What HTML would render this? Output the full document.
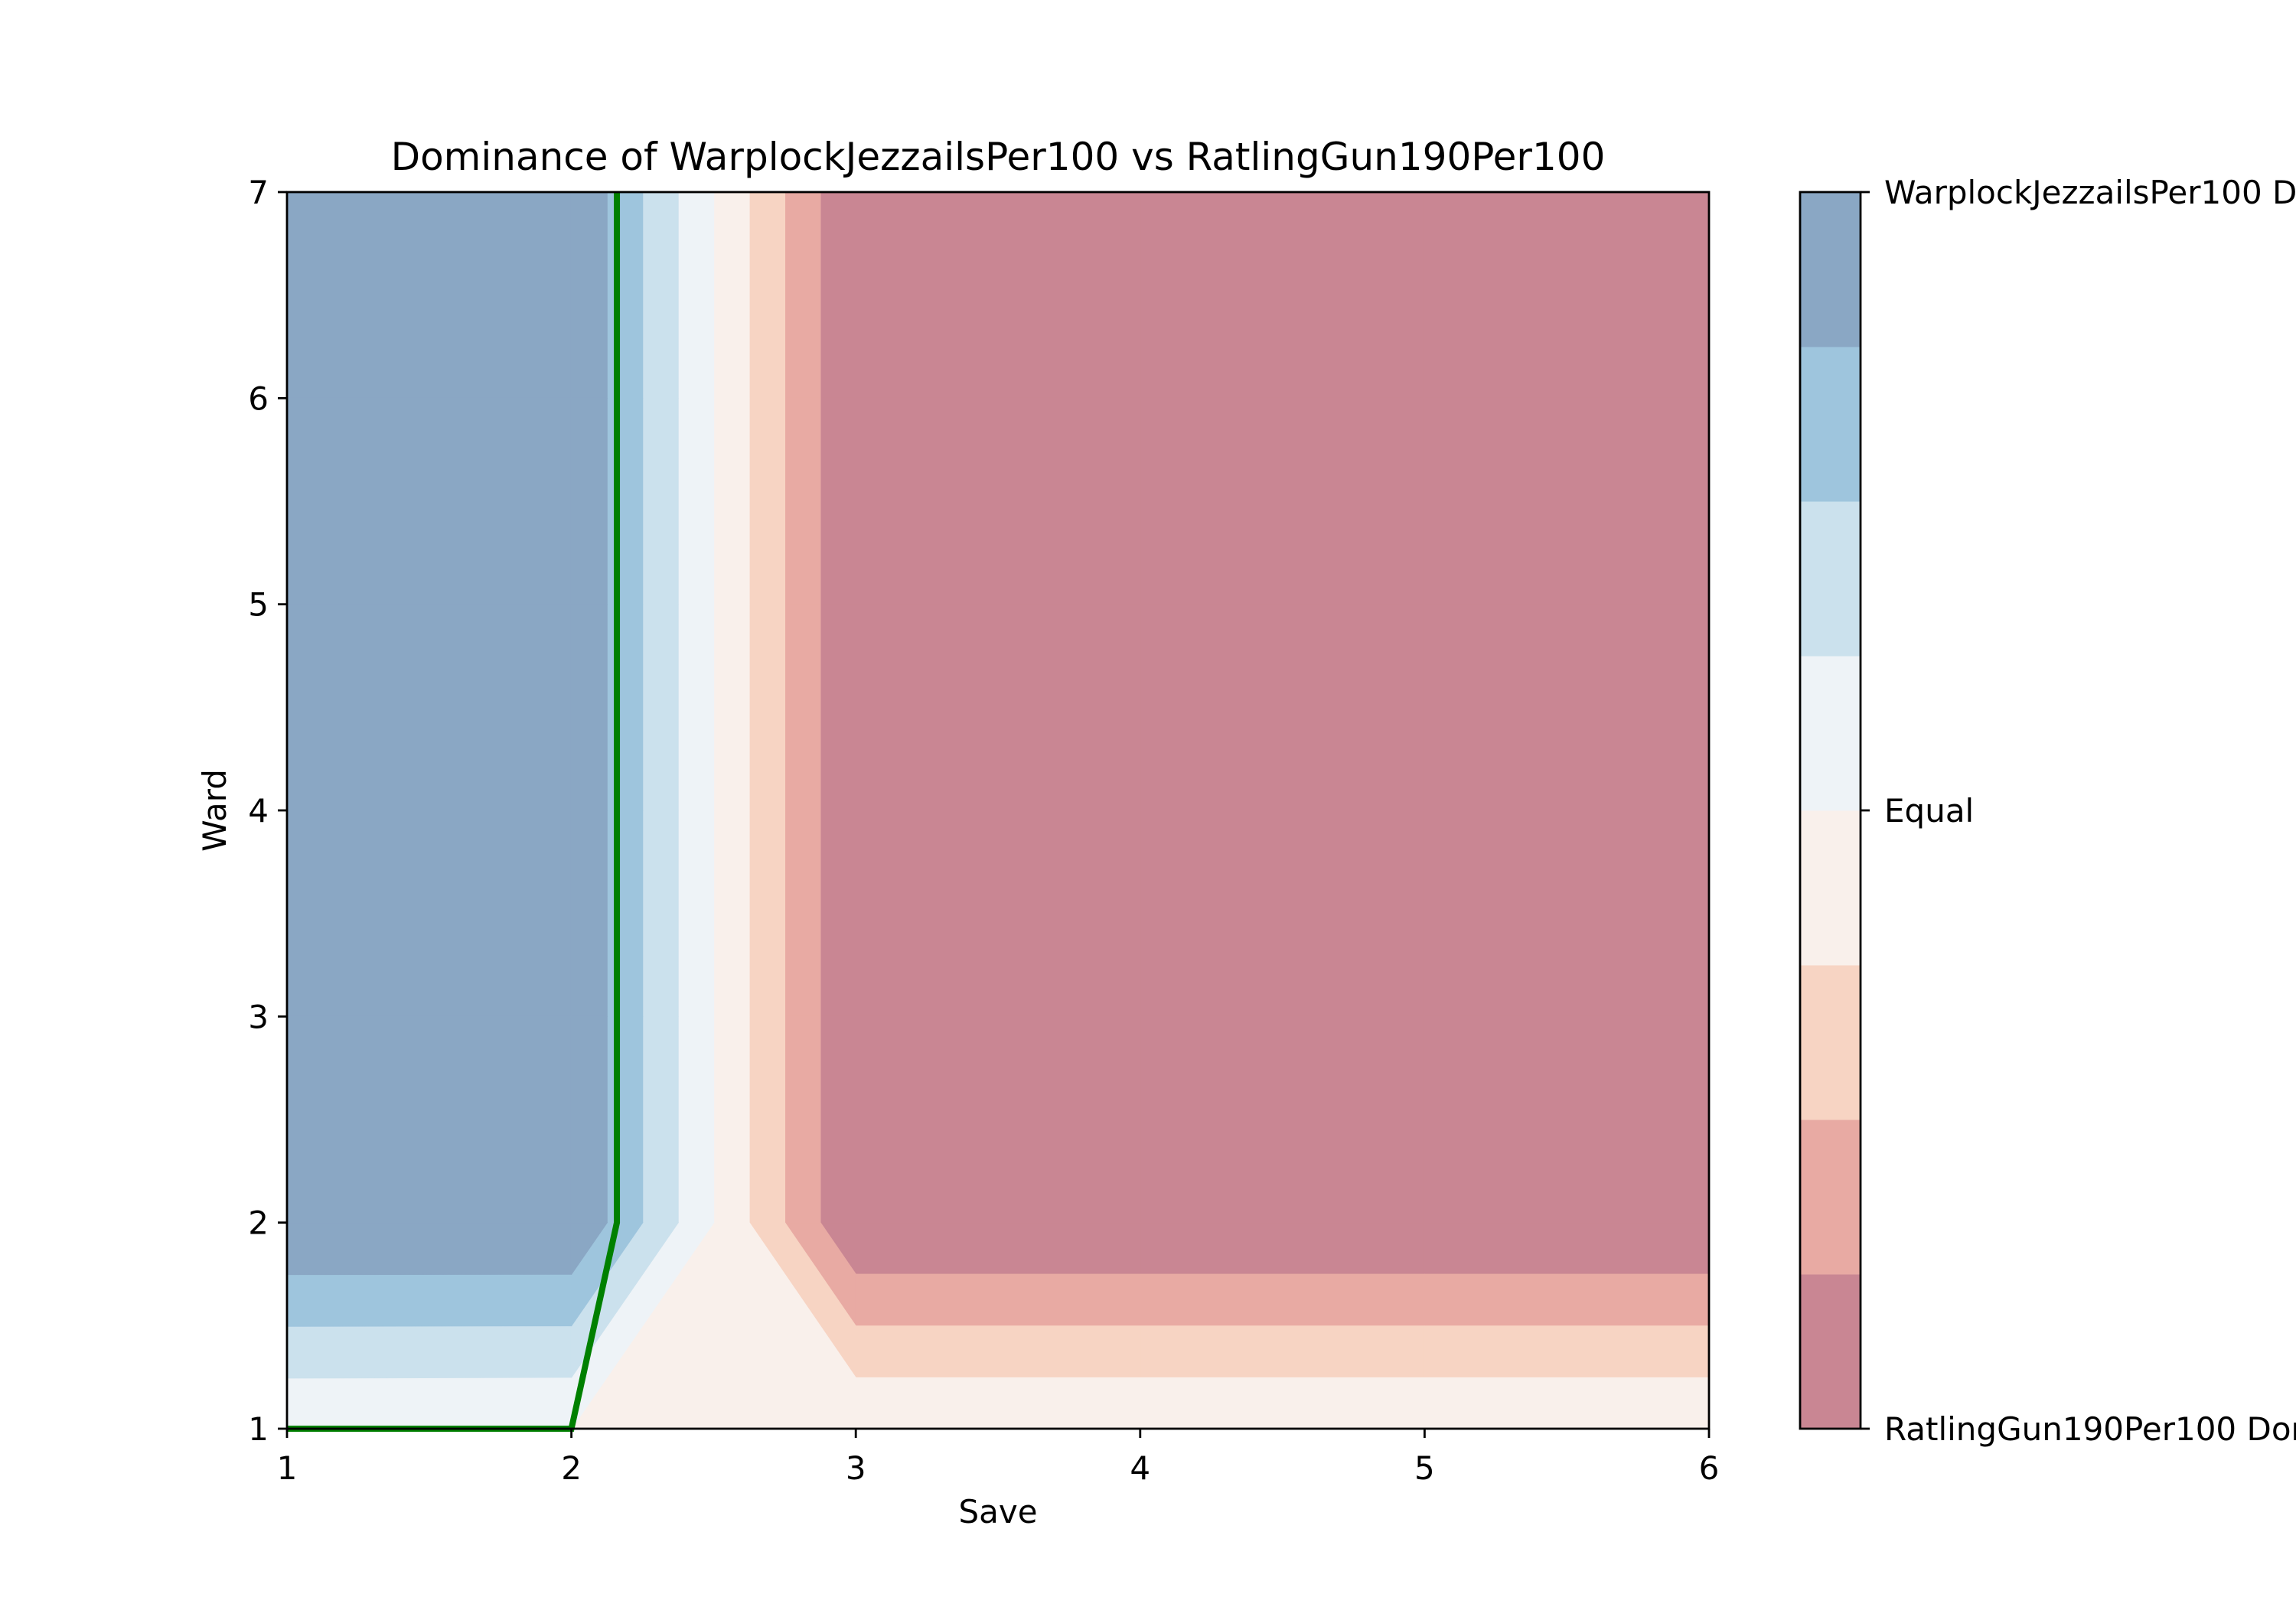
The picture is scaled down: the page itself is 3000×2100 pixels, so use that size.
<!DOCTYPE html>
<html><head><meta charset="utf-8"><style>
html,body{margin:0;padding:0;background:#fff;}
svg{display:block;}
text{font-family:"DejaVu Sans","Liberation Sans",sans-serif;fill:#000;}
</style></head><body>
<svg id="chart" width="3000" height="2100" viewBox="0 0 3000 2100" xmlns="http://www.w3.org/2000/svg">
<rect width="3000" height="2100" fill="#fff"/>
<g id="plot"></g>
<g id="axes"></g>
<g id="cbar"></g>
</svg>
<script>
// ---- data ----
const xValues = [1, 2, 3, 4, 5, 6];
const yValues = [1, 2, 3, 4, 5, 6, 7];
// z rows indexed by y (row 0 = y=1)
const zRows = [
  [0.02, 0, -0.02, -0.02, -0.02, -0.02],
  [4, 4, -4, -4, -4, -4],
  [4, 4, -4, -4, -4, -4],
  [4, 4, -4, -4, -4, -4],
  [4, 4, -4, -4, -4, -4],
  [4, 4, -4, -4, -4, -4],
  [4, 4, -4, -4, -4, -4]
];
const levels = [-4, -3, -2, -1, 0, 1, 2, 3, 4];
const bandColors = ['#c98693','#e8aaa3','#f7d4c3','#f9f0eb','#eef3f7','#cbe1ed','#9ec5dd','#8aa7c4'];
const equalLineX = [1, 2, 2.16, 2.16];
const equalLineY = [1, 1, 2, 7];
const xTicks = [1, 2, 3, 4, 5, 6];
const yTicks = [1, 2, 3, 4, 5, 6, 7];
const cbarTickValues = [-4, 0, 4];
const cbarTickLabels = ['RatlingGun190Per100 Dominant', 'Equal', 'WarplockJezzailsPer100 Dominant'];

// ---- layout ----
const L = 375, R = 2233, T = 251, B = 1867;
const xMin = 1, xMax = 6, yMin = 1, yMax = 7;
const sx = v => L + (v - xMin) / (xMax - xMin) * (R - L);
const sy = v => B - (v - yMin) / (yMax - yMin) * (B - T);
const CL = 2352, CR = 2431;
const cy = v => B - (v - levels[0]) / (levels[levels.length - 1] - levels[0]) * (B - T);
const NS = 'http://www.w3.org/2000/svg';
const FS = 42;
function mk(tag, attrs, parent) {
  const e = document.createElementNS(NS, tag);
  for (const k in attrs) e.setAttribute(k, attrs[k]);
  parent.appendChild(e);
  return e;
}
const plot = document.getElementById('plot');
const axes = document.getElementById('axes');
const cbar = document.getElementById('cbar');

function clip(poly, test, level) {
  const out = [];
  for (let i = 0; i < poly.length; i++) {
    const a = poly[i], b = poly[(i + 1) % poly.length];
    const ia = test(a[2]), ib = test(b[2]);
    if (ia) out.push(a);
    if (ia !== ib && a[2] !== b[2]) {
      const t = (level - a[2]) / (b[2] - a[2]);
      out.push([a[0] + t * (b[0] - a[0]), a[1] + t * (b[1] - a[1]), level]);
    }
  }
  return out;
}
for (let bi = 0; bi < bandColors.length; bi++) {
  const lo = levels[bi], hi = levels[bi + 1];
  const g = mk('g', {}, plot);
  
  
  for (let j = 0; j < yValues.length - 1; j++) {
    for (let i = 0; i < xValues.length - 1; i++) {
      let poly = [
        [xValues[i], yValues[j], zRows[j][i]],
        [xValues[i + 1], yValues[j], zRows[j][i + 1]],
        [xValues[i + 1], yValues[j + 1], zRows[j + 1][i + 1]],
        [xValues[i], yValues[j + 1], zRows[j + 1][i]]
      ];
      const loT = bi === 0 ? (z => z >= lo) : (z => z > lo);
      poly = clip(poly, loT, lo);
      if (poly.length < 3) continue;
      poly = clip(poly, z => z <= hi, hi);
      if (poly.length < 3) continue;
      const pts = poly.map(p => sx(p[0]).toFixed(2) + ',' + sy(p[1]).toFixed(2)).join(' ');
      const pg = mk('polygon', {points: pts, fill: bandColors[bi], stroke: bandColors[bi], 'stroke-width': 1.5, 'stroke-linejoin': 'round'}, g);
      
      
    }
  }
}
const gl = mk('polyline', {points: equalLineX.map((x, k) => sx(x) + ',' + sy(equalLineY[k])).join(' '), fill: 'none', stroke: '#008000', 'stroke-width': 8, 'stroke-linejoin': 'miter'}, plot);



const fr = mk('rect', {x: L, y: T, width: R - L, height: B - T, fill: 'none', stroke: '#000', 'stroke-width': 2.8}, axes);


xTicks.forEach(v => {
  const t = mk('line', {x1: sx(v), x2: sx(v), y1: B, y2: B + 12, stroke: '#000', 'stroke-width': 2.8}, axes);
  
  
  const tx = mk('text', {x: sx(v), y: 1933, 'text-anchor': 'middle', 'font-size': FS}, axes);
  
  
  tx.textContent = v;
});
yTicks.forEach(v => {
  const t = mk('line', {x1: L - 12, x2: L, y1: sy(v), y2: sy(v), stroke: '#000', 'stroke-width': 2.8}, axes);
  
  
  const tx = mk('text', {x: L - 24, y: sy(v) + 15, 'text-anchor': 'end', 'font-size': FS}, axes);
  
  
  tx.textContent = v;
});
const xl = mk('text', {x: (L + R) / 2, y: 1990, 'text-anchor': 'middle', 'font-size': FS}, axes);


xl.textContent = 'Save';
const yl = mk('text', {x: 0, y: 0, 'text-anchor': 'middle', 'font-size': FS, transform: 'translate(295,' + ((T + B) / 2) + ') rotate(-90)'}, axes);


yl.textContent = 'Ward';
const ti = mk('text', {x: (L + R) / 2, y: 222, 'text-anchor': 'middle', 'font-size': 50}, axes);


ti.textContent = 'Dominance of WarplockJezzailsPer100 vs RatlingGun190Per100';

for (let bi = 0; bi < bandColors.length; bi++) {
  const y1 = cy(levels[bi + 1]), y2 = cy(levels[bi]);
  const r = mk('rect', {x: CL, y: y1, width: CR - CL, height: y2 - y1 + 0.5, fill: bandColors[bi]}, cbar);
  
  
}
const cf = mk('rect', {x: CL, y: T, width: CR - CL, height: B - T, fill: 'none', stroke: '#000', 'stroke-width': 2.8}, cbar);


cbarTickValues.forEach((v, k) => {
  const t = mk('line', {x1: CR, x2: CR + 12, y1: cy(v), y2: cy(v), stroke: '#000', 'stroke-width': 2.8}, cbar);
  
  
  const tx = mk('text', {x: 2462, y: cy(v) + 15, 'text-anchor': 'start', 'font-size': FS}, cbar);
  
  
  tx.textContent = cbarTickLabels[k];
});
</script>
</body></html>
